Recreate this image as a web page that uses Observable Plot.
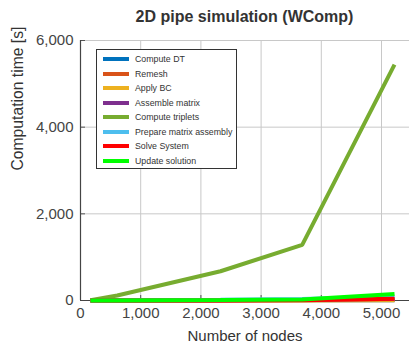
<!DOCTYPE html>
<html>
<head>
<meta charset="utf-8">
<script src="https://cdn.jsdelivr.net/npm/d3@7"></script>
<script src="https://cdn.jsdelivr.net/npm/@observablehq/plot@0.6"></script>
<style>
  html, body { margin: 0; padding: 0; background: #fff; }
  #wrap { position: relative; width: 409px; height: 343px; font-family: "Liberation Sans", Arial, sans-serif; }
  #title { position: absolute; left: 0; width: 489px; top: 8px; text-align: center; font-weight: bold; font-size: 16px; color: #333; }
  #legend { position: absolute; left: 96px; top: 49px; width: 141px; height: 120px; border: 1px solid #333; background: #fff; box-sizing: border-box; }
  .row { position: absolute; left: 0; height: 14px; width: 140px; }
  .sw { position: absolute; left: 6px; width: 26px; height: 4px; top: 5px; }
  .lb { position: absolute; left: 38px; top: 0; font-size: 8.8px; line-height: 14px; color: #333; white-space: nowrap; }
</style>
</head>
<body>
<div id="wrap"></div>
<script>
const nodes = [166, 610, 2326, 3683, 5216];
const seriesNames = ["Compute DT", "Remesh", "Apply BC", "Assemble matrix", "Compute triplets", "Prepare matrix assembly", "Solve System", "Update solution"];
const seriesColors = ["#0072BD", "#D95319", "#EDB120", "#7E2F8E", "#77AC30", "#4DBEEE", "#FF0000", "#00FF00"];
const computeDT = [0.1, 0.4, 2, 4, 8];
const remesh = [0.2, 0.8, 4, 9, 20];
const applyBC = [0.1, 0.3, 1, 2, 5];
const assembleMatrix = [0.3, 1.5, 8, 16, 35];
const computeTriplets = [8, 115, 675, 1285, 5445];
const prepareMatrixAssembly = [0.5, 3, 15, 35, 95];
const solveSystem = [0.1, 0.5, 2, 4, 40];
const updateSolution = [0.5, 2, 10, 25, 150];
const xTicks = [0, 1000, 2000, 3000, 4000, 5000];
const yTicks = [0, 2000, 4000, 6000];
const titleText = "2D pipe simulation (WComp)";
const xLabel = "Number of nodes";
const yLabel = "Computation time [s]";

const seriesValues = [computeDT, remesh, applyBC, assembleMatrix, computeTriplets, prepareMatrixAssembly, solveSystem, updateSolution];
const data = [];
seriesNames.forEach((name, i) => {
  nodes.forEach((n, j) => data.push({series: name, nodes: n, time: seriesValues[i][j]}));
});
const fmt = d3.format(",");

const chart = Plot.plot({
  width: 409,
  height: 343,
  marginLeft: 80,
  marginRight: 0,
  marginTop: 40,
  marginBottom: 43,
  style: {fontFamily: "'Liberation Sans', Arial, sans-serif", fontSize: "15px", color: "#444", background: "#fff"},
  x: {domain: [0, 5465]},
  y: {domain: [0, 6000]},
  color: {domain: seriesNames, range: seriesColors},
  marks: [
    Plot.gridX(xTicks.slice(1), {stroke: "#c8c8c8", strokeOpacity: 1, strokeWidth: 1}),
    Plot.gridY(yTicks.slice(1), {stroke: "#c8c8c8", strokeOpacity: 1, strokeWidth: 1}),
    Plot.axisX(xTicks, {tickFormat: fmt, tickSize: -5, tickPadding: 12, stroke: "#555", fill: "#444", label: null}),
    Plot.axisY(yTicks, {tickFormat: fmt, tickSize: -5, tickPadding: 12, stroke: "#555", fill: "#444", label: null}),
    Plot.ruleX([0], {stroke: "#444", strokeWidth: 1.2}),
    Plot.ruleY([0], {stroke: "#444", strokeWidth: 1.2}),
    Plot.line(data, {x: "nodes", y: "time", z: "series", stroke: "series", strokeWidth: 4, strokeLinecap: "butt", strokeLinejoin: "miter"}),
    Plot.text([xLabel], {frameAnchor: "bottom", dy: 40, fontSize: 15, fill: "#333", lineAnchor: "bottom"}),
    Plot.text([yLabel], {frameAnchor: "left", dx: -63, rotate: -90, fontSize: 15.7, fill: "#333"})
  ]
});

const wrap = document.getElementById("wrap");
wrap.appendChild(chart);

const title = document.createElement("div");
title.id = "title";
title.textContent = titleText;
wrap.appendChild(title);

const legend = document.createElement("div");
legend.id = "legend";
seriesNames.forEach((name, i) => {
  const row = document.createElement("div");
  row.className = "row";
  row.style.top = (2 + i * 14.57) + "px";
  const sw = document.createElement("div");
  sw.className = "sw";
  sw.style.background = seriesColors[i];
  const lb = document.createElement("div");
  lb.className = "lb";
  lb.textContent = name;
  row.appendChild(sw);
  row.appendChild(lb);
  legend.appendChild(row);
});
wrap.appendChild(legend);
</script>
</body>
</html>
